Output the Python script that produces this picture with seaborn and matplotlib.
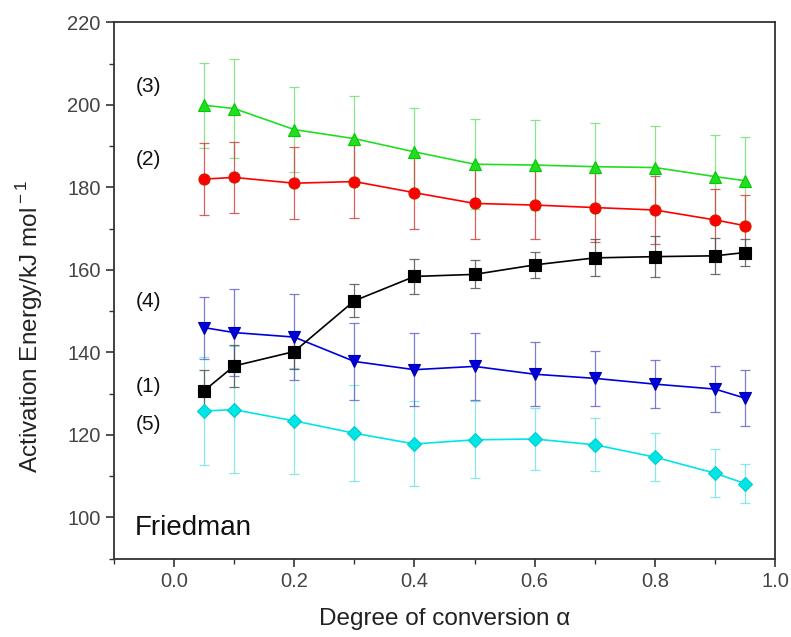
import numpy as np
import pandas as pd
import seaborn as sns
import matplotlib
matplotlib.use("Agg")
import matplotlib.pyplot as plt
from matplotlib.ticker import MultipleLocator

# degree of conversion
alpha = [0.05, 0.1, 0.2, 0.3, 0.4, 0.5, 0.6, 0.7, 0.8, 0.9, 0.95]

# activation energies (kJ/mol) and error bars
e1 = [130.7, 136.7, 140.2, 152.5, 158.4, 158.9, 161.2, 162.9, 163.2, 163.4, 164.2]
err1 = [5.0, 5.0, 4.2, 4.0, 4.2, 3.4, 3.2, 4.5, 5.0, 4.3, 3.2]

e2 = [182.0, 182.4, 181.0, 181.4, 178.7, 176.1, 175.7, 175.1, 174.5, 172.1, 170.7]
err2 = [8.7, 8.7, 8.7, 8.8, 8.9, 8.6, 8.2, 8.3, 8.3, 7.5, 7.4]

e3 = [199.9, 199.1, 194.0, 191.8, 188.6, 185.6, 185.4, 185.0, 184.8, 182.6, 181.6]
err3 = [10.3, 12.1, 10.4, 10.3, 10.7, 10.9, 10.9, 10.6, 10.0, 10.1, 10.7]

e4 = [146.0, 144.8, 143.7, 137.8, 135.8, 136.6, 134.7, 133.7, 132.3, 131.1, 128.9]
err4 = [7.5, 10.5, 10.5, 9.3, 8.8, 8.2, 7.7, 6.7, 5.9, 5.6, 6.8]

e5 = [125.8, 126.1, 123.4, 120.4, 117.8, 118.8, 119.0, 117.6, 114.6, 110.7, 108.2]
err5 = [13.0, 15.4, 12.9, 11.7, 10.3, 9.3, 7.6, 6.4, 5.9, 5.8, 4.8]

series_names = ["(1)", "(2)", "(3)", "(4)", "(5)"]
label_y = [131.7, 186.7, 204.5, 152.3, 122.5]

sns.set_style("ticks")
plt.rcParams["font.family"] = ["Liberation Sans", "DejaVu Sans"]
plt.rcParams["mathtext.fontset"] = "custom"
plt.rcParams["mathtext.rm"] = "Liberation Sans"

fig = plt.figure(figsize=(7.91, 6.37), dpi=100)
ax = fig.add_axes([0.144, 0.123, 0.836, 0.842])

styles = [
    # values, errors, line colour, marker, marker edge, errbar colour
    (e1, err1, "#000000", "s", "#000000", "#555555"),
    (e2, err2, "#ff0000", "o", "#cc2200", "#d04444"),
    (e3, err3, "#22dd22", "^", "#00cc00", "#77e077"),
    (e4, err4, "#0000dd", "v", "#0000aa", "#6666cc"),
    (e5, err5, "#00e5e5", "D", "#00cccc", "#77e5e5"),
]

# draw order so black sits on top like the original
for idx in [4, 3, 2, 1, 0]:
    vals, errs, col, mk, edge, ecol = styles[idx]
    ax.errorbar(alpha, vals, yerr=errs, fmt="none", ecolor=ecol, elinewidth=0.9,
                capsize=3.5, capthick=0.9, alpha=0.85, zorder=2)
    df = pd.DataFrame({"alpha": alpha, "E": vals})
    sns.lineplot(data=df, x="alpha", y="E", ax=ax, color=col, marker=mk,
                 markersize=8 if mk != "D" else 7, markeredgecolor=edge,
                 markeredgewidth=0.8, linewidth=1.2, zorder=3)

for name, yv in zip(series_names, label_y):
    ax.text(-0.063, yv, name, fontsize=15, color="#111111", ha="left", va="center")

ax.text(-0.066, 97.5, "Friedman", fontsize=20, color="#111111", ha="left", va="center")

ax.set_xlim(-0.1, 1.0)
ax.set_ylim(90, 220)
ax.xaxis.set_major_locator(MultipleLocator(0.2))
ax.xaxis.set_minor_locator(MultipleLocator(0.1))
ax.yaxis.set_major_locator(MultipleLocator(20))
ax.yaxis.set_minor_locator(MultipleLocator(10))
ax.set_xticks(np.arange(0, 1.01, 0.2))
ax.set_xticklabels([f"{t:.1f}" for t in np.arange(0, 1.01, 0.2)])
ax.set_yticks(np.arange(100, 221, 20))

ax.tick_params(which="major", direction="out", length=6, width=1.2, labelsize=14.5,
               colors="#333333", labelcolor="#444444", top=False, right=False)
ax.tick_params(which="minor", direction="out", length=3.5, width=1.0,
               colors="#333333", top=False, right=False)
for sp in ax.spines.values():
    sp.set_visible(True)
    sp.set_linewidth(1.3)
    sp.set_color("#333333")

ax.set_xlabel("Degree of conversion α", fontsize=17.5, color="#222222", labelpad=12)
ax.set_ylabel(r"Activation Energy/kJ mol$^{\rm -1}$", fontsize=17.5, color="#222222")
ax.yaxis.set_label_coords(-0.104, 0.432)

fig.savefig("out.png", dpi=100)
